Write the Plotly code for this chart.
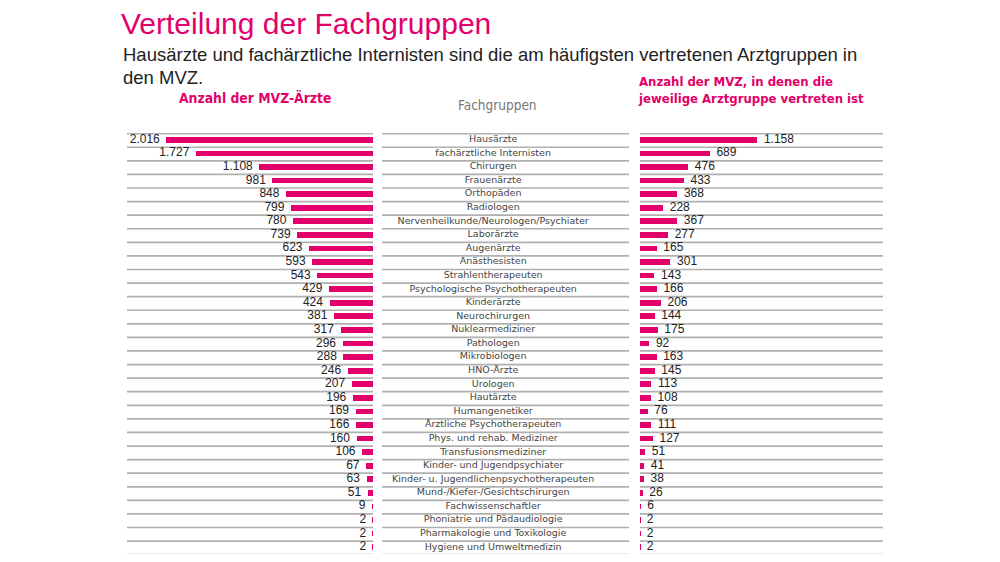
import plotly.graph_objects as go

# data
fachgruppen = [
    "Hausärzte", "fachärztliche Internisten", "Chirurgen", "Frauenärzte", "Orthopäden",
    "Radiologen", "Nervenheilkunde/Neurologen/Psychiater", "Laborärzte", "Augenärzte",
    "Anästhesisten", "Strahlentherapeuten", "Psychologische Psychotherapeuten", "Kinderärzte",
    "Neurochirurgen", "Nuklearmediziner", "Pathologen", "Mikrobiologen", "HNO-Ärzte",
    "Urologen", "Hautärzte", "Humangenetiker", "Ärztliche Psychotherapeuten",
    "Phys. und rehab. Mediziner", "Transfusionsmediziner", "Kinder- und Jugendpsychiater",
    "Kinder- u. Jugendlichenpsychotherapeuten", "Mund-/Kiefer-/Gesichtschirurgen",
    "Fachwissenschaftler", "Phoniatrie und Pädaudiologie", "Pharmakologie und Toxikologie",
    "Hygiene und Umweltmedizin",
]
aerzte = [2016, 1727, 1108, 981, 848, 799, 780, 739, 623, 593, 543, 429, 424, 381, 317,
          296, 288, 246, 207, 196, 169, 166, 160, 106, 67, 63, 51, 9, 2, 2, 2]
mvz = [1158, 689, 476, 433, 368, 228, 367, 277, 165, 301, 143, 166, 206, 144, 175,
       92, 163, 145, 113, 108, 76, 111, 127, 51, 41, 38, 26, 6, 2, 2, 2]

PINK = "#e2006a"
NUM_FONT = "Liberation Sans, Arial, sans-serif"
NARROW = "Liberation Sans Narrow, Arial Narrow, DejaVu Sans Condensed, sans-serif"

# page has an 8px body margin, so the figure is a bit smaller than the window
W, H, OFF = 992, 554, 8


def px(x):
    return (x - OFF) / W


def py(y):
    return 1 - (y - OFF) / H


def de(v):
    return f"{v:,}".replace(",", ".")


rows = list(range(len(fachgruppen)))
num_font = dict(family=NUM_FONT, size=12, color="#222")
sub_font = dict(family="Liberation Sans, Arial, sans-serif", size=18.5, color="#222")

fig = go.Figure()

fig.add_trace(go.Bar(
    x=aerzte, y=rows, orientation="h", xaxis="x", yaxis="y",
    marker=dict(color=PINK, line=dict(width=0)), width=0.42,
    hoverinfo="skip", showlegend=False,
))
fig.add_trace(go.Scatter(
    x=aerzte, y=rows, mode="markers+text", text=[de(v) for v in aerzte],
    xaxis="x", yaxis="y", textposition="middle left", cliponaxis=False,
    marker=dict(size=9, opacity=0), textfont=num_font,
    hoverinfo="skip", showlegend=False,
))
fig.add_trace(go.Scatter(
    x=[0.45] * len(fachgruppen), y=rows, mode="text", text=fachgruppen,
    xaxis="x2", yaxis="y", textposition="middle center",
    textfont=dict(family="DejaVu Sans, sans-serif", size=9.5, color="#444"),
    hoverinfo="skip", showlegend=False,
))
fig.add_trace(go.Bar(
    x=mvz, y=rows, orientation="h", xaxis="x3", yaxis="y",
    marker=dict(color=PINK, line=dict(width=0)), width=0.42,
    hoverinfo="skip", showlegend=False,
))
fig.add_trace(go.Scatter(
    x=mvz, y=rows, mode="markers+text", text=[de(v) for v in mvz],
    xaxis="x3", yaxis="y", textposition="middle right", cliponaxis=False,
    marker=dict(size=9, opacity=0), textfont=num_font,
    hoverinfo="skip", showlegend=False,
))

# grey separator lines in each column
shapes = []
for ref in ["x domain", "x2 domain", "x3 domain"]:
    for i in range(len(fachgruppen) + 1):
        shapes.append(dict(type="line", xref=ref, yref="y", x0=0, x1=1,
                           y0=i - 0.45, y1=i - 0.45,
                           line=dict(color="#b0b0b0", width=1.7), layer="below"))

hidden = dict(showgrid=False, zeroline=False, showticklabels=False, showline=False,
              fixedrange=True)

fig.update_layout(
    width=W, height=H,
    margin=dict(l=0, r=0, t=0, b=0),
    paper_bgcolor="white", plot_bgcolor="white",
    bargap=0,
    xaxis=dict(domain=[px(127), px(373)], range=[2400, 0], **hidden),
    xaxis2=dict(domain=[px(382), px(629)], range=[0, 1], **hidden),
    xaxis3=dict(domain=[px(640), px(883)], range=[0, 2400], **hidden),
    yaxis=dict(domain=[py(554), py(133)], range=[30.5, -0.5], **hidden),
    shapes=shapes,
    annotations=[
        dict(text="Verteilung der Fachgruppen", x=px(119), y=py(5),
             xref="paper", yref="paper", xanchor="left", yanchor="top", showarrow=False,
             font=dict(family="Liberation Sans, Arial, sans-serif", size=30, color=PINK)),
        dict(text="Hausärzte und fachärztliche Internisten sind die am häufigsten "
                  "vertretenen Arztgruppen in",
             x=px(121), y=py(55), xref="paper", yref="paper", xanchor="left",
             yanchor="middle", showarrow=False, font=sub_font),
        dict(text="den MVZ.", x=px(121), y=py(77), xref="paper", yref="paper",
             xanchor="left", yanchor="middle", showarrow=False, font=sub_font),
        dict(text="<b>Anzahl der MVZ-Ärzte</b>", x=px(177), y=py(98),
             xref="paper", yref="paper", xanchor="left", yanchor="middle", showarrow=False,
             font=dict(family=NARROW, size=13.8, color=PINK)),
        dict(text="Fachgruppen", x=px(497), y=py(105),
             xref="paper", yref="paper", xanchor="center", yanchor="middle", showarrow=False,
             font=dict(family=NARROW, size=13.5, color="#777")),
        dict(text="<b>Anzahl der MVZ, in denen die<br>jeweilige Arztgruppe vertreten ist</b>",
             x=px(636), y=py(90), xref="paper", yref="paper", xanchor="left",
             yanchor="middle", align="left", showarrow=False,
             font=dict(family=NARROW, size=13, color=PINK)),
    ],
)

fig.write_html("out.html")
